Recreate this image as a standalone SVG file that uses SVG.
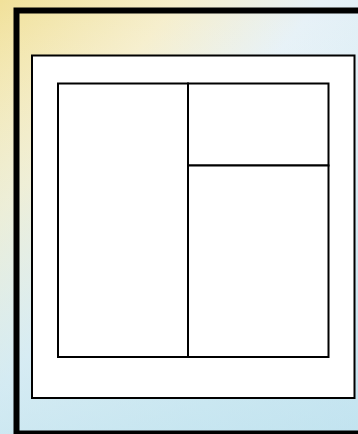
<svg xmlns="http://www.w3.org/2000/svg" width="358" height="434" viewBox="0 0 358 434">
<defs>
<linearGradient id="bg" x1="0" y1="0" x2="1" y2="1">
<stop offset="0" stop-color="#f1e19a"/>
<stop offset="0.25" stop-color="#f6eecb"/>
<stop offset="0.45" stop-color="#e6f1f7"/>
<stop offset="0.75" stop-color="#d3eaf4"/>
<stop offset="1" stop-color="#c6e4f2"/>
</linearGradient>
<linearGradient id="bg2" x1="0" y1="0" x2="0" y2="1">
<stop offset="0" stop-color="#ffffff" stop-opacity="0"/>
<stop offset="0.5" stop-color="#d8eef3" stop-opacity="0.35"/>
<stop offset="1" stop-color="#bfe3ee" stop-opacity="0.6"/>
</linearGradient>
<style>
.frame{fill:none;stroke:#000;stroke-width:6}
.panel{fill:#fff;stroke:#000;stroke-width:2}
.cell{fill:#fff;stroke:#000;stroke-width:2}
</style>
</defs>
<rect id="background" x="0" y="0" width="358" height="434" fill="url(#bg)"/>
<rect x="0" y="0" width="358" height="434" fill="url(#bg2)"/>
<g id="frame"><rect class="frame" x="16.5" y="10.5" width="345" height="423"/></g>
<g id="panel"><rect class="panel" x="32" y="55.5" width="322.5" height="342.5"/></g>
<g id="cell-left"><rect class="cell" x="58" y="83.5" width="130" height="273.5"/></g>
<g id="cell-top-right"><rect class="cell" x="188" y="83.5" width="140.5" height="82"/></g>
<g id="cell-bottom-right"><rect class="cell" x="188" y="165.5" width="140.5" height="191.5"/></g>
<g id="connectors"></g>
</svg>
